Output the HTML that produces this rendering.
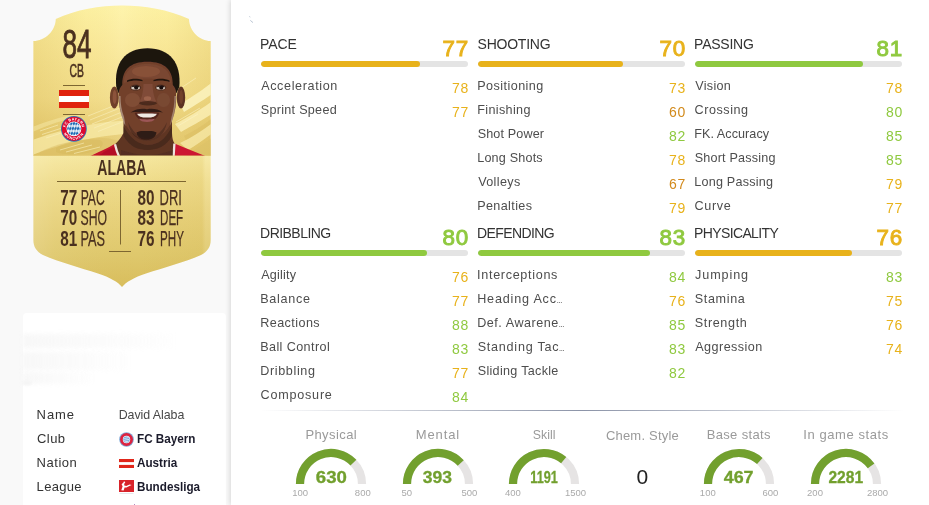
<!DOCTYPE html>
<html lang="en"><head><meta charset="utf-8"><title>David Alaba</title>
<style>
html,body{margin:0;padding:0}
body{width:929px;height:505px;overflow:hidden;background:#f9f9f9;font-family:"Liberation Sans",sans-serif;position:relative}
#left{position:absolute;left:0;top:0;width:232px;height:505px;overflow:hidden}
#panel{position:absolute;left:231px;top:0;width:698px;height:505px;background:#fff;box-shadow:-1px 0 5px rgba(0,0,0,.14)}
#panel>*{position:absolute}
.blk{position:absolute;width:207px;height:200px;margin-left:-231px}
.blk>*{position:absolute}
.hd{left:0;top:35px;font-size:14px;line-height:18px;color:#333;white-space:nowrap}
.hv{right:-.7px;top:33.6px;font-size:22.4px;line-height:30px;white-space:nowrap;-webkit-text-stroke:.95px currentColor;letter-spacing:.6px}
.bar{left:0;top:61px;width:207px;height:6px;border-radius:3px;background:#e4e4e4;overflow:hidden}
.bar i{display:block;height:6px;border-radius:3px}
.row{left:0;width:207px;height:24px}
.lb{position:absolute;left:0;top:4px;font-size:12.6px;line-height:16px;color:#4d4d4d;white-space:nowrap}
.nv{position:absolute;right:-.9px;top:6px;font-size:14px;letter-spacing:.6px;line-height:16px;white-space:nowrap}
.el{font-size:5.600px;font-weight:bold;letter-spacing:0;margin-left:-.2px;color:#333}
.hr{left:29px;top:410px;width:645px;height:1px;margin-left:0;background:linear-gradient(to right,rgba(140,148,168,0),rgba(140,148,168,1) 50%,rgba(140,148,168,0))}
.gl{top:427px;width:120px;text-align:center;font-size:13px;line-height:16px;color:#9a9a9a;margin-left:-231px;white-space:nowrap}
.gl span,.gv span{display:inline-block}
.gs{margin-left:-231px}
.gv{top:468.300px;width:80px;text-align:center;font-size:16px;line-height:20px;font-weight:bold;color:#72a02e;margin-left:-231px;white-space:nowrap;-webkit-text-stroke:.3px #72a02e}
.gm{top:486.600px;width:40px;text-align:center;font-size:9.500px;line-height:12px;color:#aaa;margin-left:-231px}
.cz{top:465.300px;width:80px;text-align:center;font-size:21px;line-height:24px;color:#222;margin-left:-231px}
.wb{position:absolute;left:22.5px;width:203px;background:#fff;border-radius:4px}
.ir{position:absolute;left:37.5px;width:190px;height:24px;font-size:13px;line-height:16px;color:#333;white-space:nowrap}
.ir>*{position:absolute}
.ir .k{left:0;top:0}
.ir .v{left:81.200px;top:0;color:#484848;font-size:12.400px;letter-spacing:-.05px}
.ir .b{left:99.500px;top:0;font-weight:bold;color:#1b1b2b;font-size:13px;transform:scaleX(.9);transform-origin:0 0}
.ir .ic{display:block}
.sm{position:absolute;background:linear-gradient(to right,#f6f6f6,rgba(250,250,250,.2));filter:blur(2px);opacity:.8}
.sm2{position:absolute;left:22.500px;top:381px;width:8px;height:4px;background:#f4f4f4;filter:blur(1px)}

</style></head><body>
<div id="left">
<svg id="card" style="position:absolute;left:0;top:0" width="232" height="300" viewBox="0 0 232 300" font-family="'Liberation Sans',sans-serif">
<defs>
<linearGradient id="cg" gradientUnits="userSpaceOnUse" x1="0" y1="5" x2="0" y2="155">
<stop offset="0" stop-color="#fef3a5"/><stop offset=".28" stop-color="#fae999"/><stop offset=".62" stop-color="#f3de8b"/><stop offset=".8" stop-color="#ead17a"/><stop offset="1" stop-color="#e4c96e"/>
</linearGradient>
<linearGradient id="cgb" gradientUnits="userSpaceOnUse" x1="0" y1="155" x2="0" y2="288">
<stop offset="0" stop-color="#f6e8a0"/><stop offset=".2" stop-color="#efdc8b"/><stop offset=".45" stop-color="#e8d27c"/><stop offset=".75" stop-color="#dfc86c"/><stop offset="1" stop-color="#d8bd5c"/>
</linearGradient>
<linearGradient id="cg2" gradientUnits="userSpaceOnUse" x1="33" y1="0" x2="211" y2="0">
<stop offset="0" stop-color="#c9a63f" stop-opacity=".22"/><stop offset=".3" stop-color="#c9a63f" stop-opacity=".04"/><stop offset=".5" stop-color="#fff" stop-opacity=".08"/><stop offset=".75" stop-color="#c9a63f" stop-opacity=".03"/><stop offset="1" stop-color="#c9a63f" stop-opacity=".2"/>
</linearGradient>
<linearGradient id="cg3" gradientUnits="userSpaceOnUse" x1="33" y1="0" x2="211" y2="0">
<stop offset="0" stop-color="#fff" stop-opacity=".14"/><stop offset=".12" stop-color="#fff" stop-opacity=".05"/><stop offset=".6" stop-color="#c9a63f" stop-opacity="0"/><stop offset=".95" stop-color="#c9a63f" stop-opacity=".1"/><stop offset=".97" stop-color="#fff" stop-opacity=".08"/><stop offset="1" stop-color="#fff" stop-opacity=".08"/>
</linearGradient>
<clipPath id="cc"><path d="M33.4 41C45 41 55.5 31 55.8 19C76 9.500 100 5.400 122 5.400C144 5.400 168.500 9.500 189 19C189.300 31 199.500 41 210.700 41L210.700 240C210.700 247 207.500 251.500 201 255C184 262.500 164 267.500 146 273.500C134 277.500 126 282 122 287C118 282 110 277.500 98 273.500C80 267.500 60 262.500 43 255C36.500 251.500 33.400 247 33.400 240Z"/></clipPath>
<clipPath id="pc"><rect x="30" y="0" width="185" height="155.600"/></clipPath>
<clipPath id="dc"><circle cx="73.900" cy="128.800" r="6.700"/></clipPath>
<pattern id="loz" patternUnits="userSpaceOnUse" x="66.400" y="121" width="2.600" height="5" patternTransform="skewX(-12)"><rect width="2.600" height="5" fill="#f4f7fb"/><path d="M0 0L1.300 2.500L0 5L-1.300 2.500ZM2.600 0L3.900 2.500L2.600 5L1.300 2.500Z" fill="#1767b3"/></pattern>
<filter id="bl" x="-5%" y="-5%" width="110%" height="110%"><feGaussianBlur stdDeviation=".55"/></filter>
</defs>
<g clip-path="url(#cc)">
<rect x="30" y="0" width="185" height="156" fill="url(#cg)"/>
<rect x="30" y="155.600" width="185" height="135" fill="url(#cgb)"/>
<rect x="30" y="0" width="185" height="156" fill="url(#cg2)"/>
<rect x="30" y="156" width="185" height="134" fill="url(#cg3)"/>
<g id="photo" clip-path="url(#pc)">
<g id="bgpat">
<path d="M30 141C50 133 75 127 100 123C110 121.500 118 121 125 121L125 134C110 135 90 138 70 143C55 147 42 151 30 156Z" fill="#f8ebaa" opacity=".75"/>
<path d="M30 128C45 122 60 117 80 113L80 116C62 120 46 126 30 133Z" fill="#f9edb0" opacity=".45"/>
<path d="M40 152C55 144 75 140 100 138C110 138 118 140 122 143L122 156L40 156Z" fill="#dcc067" opacity=".55"/>
<path d="M56 148C66 141 84 138 100 140C106 143 102 149 92 152C80 155 62 155 56 152Z" fill="#d3b658" opacity=".35"/>
<g stroke="#faf0bd" stroke-width="1" opacity=".6" fill="none">
<path d="M40 131L58 125M42 134.500L62 128M46 138L66 131.500"/>
<path d="M88 116L118 104M90 120L120 108M92 124L122 112M94 128L122 117M98 131.500L122 122"/>
<path d="M60 150L84 143M66 152L92 145M74 153.500L100 147"/>
</g>
<path d="M180 104C190 98 200 92 215 80L215 92C204 100 194 106 184 112Z" fill="#fcf3c0" opacity=".85"/>
<path d="M175 124C188 117 200 110 215 99L215 112C203 120 192 126 181 132Z" fill="#fbf0b8" opacity=".8"/>
<path d="M180 143C192 137 203 130 215 121L215 131C205 139 196 145 188 150Z" fill="#f9ecae" opacity=".7"/>
<path d="M184 136C194 131 204 125 215 116L215 121C204 129 195 135 186 140Z" fill="#d9bd62" opacity=".45"/>
<path d="M186 156C194 150 204 144 215 136L215 156Z" fill="#dcc168" opacity=".5"/>
<g stroke="#fcf4c8" stroke-width=".9" opacity=".6" fill="none">
<path d="M181 88L196 78M176 122L200 108M178 126L198 114"/>
</g>
</g>
<g id="player" filter="url(#bl)">
<path d="M86 158L91.500 155.400C100 151.500 108 148 114.500 144L120 158Z" fill="#c5132c"/>
<path d="M96 158L104 152L114 146.500L118 158Z" fill="#a30d22" opacity=".5"/>
<path d="M173 158L174.500 143.500C184 147.500 194 151.500 204 155.500L209 158Z" fill="#cc1730"/>
<path d="M123.500 116L123.500 133C121 138 118 141.500 115 144.300L119.500 158L173.500 158L174.500 143.600C173 141 172.200 138 172 133L172 116Z" fill="#5e3524"/>
<path d="M115 144.300C116.200 150 117.800 154 119.700 158M174.400 143.600C174 150 173.800 154 173.400 158" stroke="#efe4df" stroke-width="2.300" fill="none"/>
<path d="M123.500 126C130 139 140 145 148 145C158 145 166 139 172 126L172 136C166 147 156 150 148 150C138 150 130 147 123.500 136Z" fill="#3b2015" opacity=".55"/>
<path d="M121 150C130 153 140 155 148 155C156 155 165 153 173 150L173 158L121 158Z" fill="#4a2a1b" opacity=".5"/>
<ellipse cx="114.300" cy="97.500" rx="4.400" ry="11" fill="#6f3f2a"/>
<ellipse cx="181" cy="97.500" rx="4.200" ry="11" fill="#5c3222"/>
<ellipse cx="114.600" cy="97" rx="2" ry="7" fill="#93593f" opacity=".8"/>
<ellipse cx="181.200" cy="97" rx="1.800" ry="7" fill="#7a4631" opacity=".7"/>
<path d="M116.300 87C113.800 63 125 48.200 147.500 48.200C170 48.200 181.500 63 179.300 87L176.500 93L118.500 93Z" fill="#1c1411"/>
<path d="M122.300 85C122 70 130 61.800 147.500 61.800C165 61.800 173 70 172.800 85C174.500 87 176 89.500 176.200 92C176.700 102 175.500 112 172 121C168 131 158 140.200 148 140.200C138 140.200 128 131 123.700 121C119.700 112 118.300 102 118.800 92C119 89.500 120.500 87 122.300 85Z" fill="#72412c"/>
<path d="M124 83C124 72 131 64 147.500 64C164 64 171 72 171 83C164 80 158 78.500 147.500 78.500C137 78.500 131 80 124 83Z" fill="#7d4832" opacity=".75"/>
<ellipse cx="146" cy="71.500" rx="14" ry="5.500" fill="#8e563c" opacity=".7"/>
<ellipse cx="132.500" cy="100" rx="7.500" ry="7" fill="#8a553d" opacity=".6"/>
<ellipse cx="163.500" cy="100" rx="6.500" ry="7" fill="#80503a" opacity=".5"/>
<path d="M143.500 84C143.500 92 141.500 98 140 101C143 104.500 152 104.500 156 101C154.500 98 152.500 92 152.500 84Z" fill="#864f3c" opacity=".75"/>
<ellipse cx="148" cy="103.200" rx="9" ry="2.200" fill="#3b1f14" opacity=".7"/>
<ellipse cx="147.500" cy="98.500" rx="3.600" ry="2.200" fill="#a56a52" opacity=".75"/>
<path d="M127 80.500C131 78.200 138 78 142.500 80L142.500 81.300C138 80 131.500 80.300 127 82Z" fill="#23150f"/>
<path d="M153.500 80C158 78 165 78.200 169.500 80.500L169.500 82C165 80.300 158 80 153.500 81.300Z" fill="#23150f"/>
<ellipse cx="135.600" cy="87.600" rx="5.600" ry="3" fill="#4a281b" opacity=".8"/>
<ellipse cx="160.700" cy="87.600" rx="5.600" ry="3" fill="#4a281b" opacity=".8"/>
<ellipse cx="135.600" cy="87.700" rx="4.500" ry="1.900" fill="#d6cbc1"/>
<ellipse cx="160.700" cy="87.700" rx="4.500" ry="1.900" fill="#d6cbc1"/>
<circle cx="136.200" cy="87.500" r="2.100" fill="#170d09"/>
<circle cx="161.300" cy="87.500" r="2.100" fill="#170d09"/>
<path d="M130.600 87.600C132.500 85 138.500 84.800 140.700 87.600C138.500 86.300 132.500 86.300 130.600 87.600Z" fill="#1d110c"/>
<path d="M155.700 87.600C157.600 85 163.600 84.800 165.800 87.600C163.600 86.300 157.600 86.300 155.700 87.600Z" fill="#1d110c"/>
<path d="M130.500 112.500C136 108.800 142 108.300 147 109.300C152 108.300 158 108.800 163 112.500C158 111.800 152 112.200 147 112.200C142 112.200 136 111.800 130.500 112.500Z" fill="#2c1911" opacity=".9"/>
<path d="M134.500 112.800C140 112.200 154 112.200 159.500 112.800C157.500 118.500 153 121.500 147 121.500C141 121.500 136.500 118.500 134.500 112.800Z" fill="#54261c"/>
<path d="M137.200 113.700C142 113.300 152 113.300 156.800 113.700C155.800 116.200 153 117.600 147 117.600C141 117.600 138.200 116.200 137.200 113.700Z" fill="#efe9e2"/>
<path d="M139 118.800C143 119.600 151 119.600 155 118.800C153.800 121.300 151 122 147 122C143 122 140.200 121.300 139 118.800Z" fill="#9d5656"/>
<path d="M136.500 132.500C140 130.500 143 131 146.500 131C150 131 153 130.500 156.500 132.500C155.500 137.500 152 139.800 146.500 139.800C141 139.800 137.500 137.500 136.500 132.500Z" fill="#1d120e" opacity=".8"/>
<path d="M128 122C134 134 140 138 147 138C154 138 161 134 167 122C165 134 158 140.500 147 140.500C136 140.500 130 134 128 122Z" fill="#3a2016" opacity=".45"/>
<path d="M119 96C119.500 110 121.500 119 125.500 126L124 117C121.500 110 120.500 104 120.500 96Z" fill="#cdbdaa" opacity=".6"/>
<path d="M176 96C175.500 110 173.500 119 170 126L171.500 117C173.500 110 174.500 104 174.500 96Z" fill="#cdbdaa" opacity=".5"/>
</g>
</g>

</g>
<g fill="#4a301f">
<text x="62.500" y="58.200" font-size="39.800" textLength="29" lengthAdjust="spacingAndGlyphs" stroke="#4a301f" stroke-width=".9">84</text>
<text x="69.400" y="76.800" font-size="18.100" textLength="14.400" lengthAdjust="spacingAndGlyphs" stroke="#4a301f" stroke-width=".55">CB</text>
<text x="97.300" y="174.500" font-size="22.800" font-weight="bold" textLength="49.200" lengthAdjust="spacingAndGlyphs">ALABA</text>
<g font-size="22" font-weight="bold" transform="translate(0 .7)">
<text x="60.2" y="204.1" textLength="17" lengthAdjust="spacingAndGlyphs">77</text>
<text x="60.2" y="224.6" textLength="17" lengthAdjust="spacingAndGlyphs">70</text>
<text x="60.2" y="245.1" textLength="17" lengthAdjust="spacingAndGlyphs">81</text>
<text x="137.6" y="204.1" textLength="17" lengthAdjust="spacingAndGlyphs">80</text>
<text x="137.6" y="224.6" textLength="17" lengthAdjust="spacingAndGlyphs">83</text>
<text x="137.6" y="245.1" textLength="17" lengthAdjust="spacingAndGlyphs">76</text>
</g>
<g font-size="22" stroke="#4a301f" stroke-width=".25" transform="translate(0 .7)">
<text x="80.7" y="204.1" textLength="24" lengthAdjust="spacingAndGlyphs">PAC</text>
<text x="80.5" y="224.6" textLength="26.5" lengthAdjust="spacingAndGlyphs">SHO</text>
<text x="80.5" y="245.1" textLength="24.6" lengthAdjust="spacingAndGlyphs">PAS</text>
<text x="159.5" y="204.1" textLength="22.4" lengthAdjust="spacingAndGlyphs">DRI</text>
<text x="160" y="224.6" textLength="23.2" lengthAdjust="spacingAndGlyphs">DEF</text>
<text x="160" y="245.1" textLength="24" lengthAdjust="spacingAndGlyphs">PHY</text>
</g>
</g>
<g fill="#7d6631">
<rect x="63" y="85" width="22" height="1"/>
<rect x="63" y="114" width="22" height="1"/>
<rect x="57" y="181" width="129" height="1"/>
<rect x="120" y="190" width="1" height="54.5"/>
<rect x="109" y="251" width="22" height="1"/>
</g>
<g id="crest">
<circle cx="73.900" cy="128.800" r="12.900" fill="#2a76bd"/>
<circle cx="73.900" cy="128.800" r="12.100" fill="#dd0a30"/>
<circle cx="73.900" cy="128.800" r="7.400" fill="#fff"/>
<g clip-path="url(#dc)"><rect x="66" y="121" width="16" height="16" fill="url(#loz)"/></g>
<path id="ct" d="M65.500 128.800A8.400 8.400 0 0 1 82.300 128.800" fill="none"/>
<path id="cb" d="M62.900 128.800A11 11 0 0 0 84.900 128.800" fill="none"/>
<text font-size="3.700" font-weight="bold" fill="#fff" letter-spacing=".25"><textPath href="#ct" startOffset="50%" text-anchor="middle">FC BAYERN</textPath></text>
<text font-size="3.700" font-weight="bold" fill="#fff" letter-spacing=".8"><textPath href="#cb" startOffset="50%" text-anchor="middle">MÜNCHEN</textPath></text>
</g>
<g id="flag"><rect x="59" y="90" width="30" height="18" fill="#fff"/><rect x="59" y="90" width="30" height="6" fill="#e0220d"/><rect x="59" y="102" width="30" height="6" fill="#e0220d"/></g>
</svg>

<div class="wb" style="top:313px;height:200px"></div>
<div class="sm" style="left:22.500px;top:334px;width:150px;height:14px"></div>
<div class="sm" style="left:22.500px;top:352px;width:105px;height:18px"></div>
<div class="sm" style="left:22.500px;top:372px;width:70px;height:12px"></div>
<div class="sm2"></div>
<div class="ir" style="top:407px"><span class="k" style="letter-spacing:0.92px;left:-0.9px">Name</span><span class="v">David Alaba</span></div>
<div class="ir" style="top:431px"><span class="k" style="letter-spacing:0.43px;left:-0.5px">Club</span><svg class="ic" style="left:81.500px;top:0.900px" width="15" height="15" viewBox="0 0 15 15"><circle cx="7.500" cy="7.500" r="7.300" fill="#7fa9d8"/><circle cx="7.500" cy="7.500" r="6.500" fill="#dc2340"/><circle cx="7.500" cy="7.500" r="3.700" fill="#f2f6fb"/><circle cx="7.500" cy="7.500" r="3.100" fill="#6fa3d8"/><path d="M5.200 6.500L9.800 5.600M5 8.300L10 7.400M5.500 9.900L9.600 9.200" stroke="#fff" stroke-width=".7"/></svg><span class="b">FC Bayern</span></div>
<div class="ir" style="top:455px"><span class="k" style="letter-spacing:0.53px;left:-0.9px">Nation</span><svg class="ic" style="left:81.500px;top:4px" width="15" height="9" viewBox="0 0 15 9"><rect width="15" height="9" fill="#fff"/><rect width="15" height="3.100" fill="#e0261a"/><rect y="5.900" width="15" height="3.100" fill="#e0261a"/></svg><span class="b">Austria</span></div>
<div class="ir" style="top:479px"><span class="k" style="letter-spacing:0.31px;left:-0.9px">League</span><svg class="ic" style="left:81.500px;top:1px" width="15" height="15" viewBox="0 0 15 15"><rect width="15" height="12" fill="#d8232a"/><path d="M2.300 10.300L3.600 6.200L2.600 4.600L4.200 2.600L5.600 3.600L5 5.200L7.200 5.900L10.600 4.400L12.600 4.900L10.400 6.100L7.400 7.600L5.600 7.500L4.600 10.500Z" fill="#fff"/><circle cx="5.300" cy="2.300" r=".9" fill="#fff"/><rect x=".5" y="13" width="14" height="1" fill="#e6e6ea"/></svg><span class="b">Bundesliga</span></div>

<div style="position:absolute;left:134px;top:503.500px;width:1.200px;height:2px;background:#b48fc0"></div>
</div>
<div id="panel">
<div class="blk" style="left:261px;top:0px">
<div class="hd" style="letter-spacing:-0.15px;left:-0.9px">PACE</div><div class="hv" style="color:#e8b21b">77</div>
<div class="bar"><i style="width:77%;background:#e8b21b"></i></div>
<div class="row" style="top:74px"><span class="lb" style="letter-spacing:0.62px;left:0.2px">Acceleration</span><span class="nv" style="color:#e8b21b">78</span></div>
<div class="row" style="top:98px"><span class="lb" style="letter-spacing:0.29px;left:-0.3px">Sprint Speed</span><span class="nv" style="color:#e8b21b">77</span></div>
</div>
<div class="blk" style="left:478px;top:0px">
<div class="hd" style="letter-spacing:-0.25px;left:-0.4px">SHOOTING</div><div class="hv" style="color:#e8b21b">70</div>
<div class="bar"><i style="width:70%;background:#e8b21b"></i></div>
<div class="row" style="top:74px"><span class="lb" style="letter-spacing:0.45px;left:-0.8px">Positioning</span><span class="nv" style="color:#e8b21b">73</span></div>
<div class="row" style="top:98px"><span class="lb" style="letter-spacing:0.36px;left:-0.8px">Finishing</span><span class="nv" style="color:#d28a1c">60</span></div>
<div class="row" style="top:122px"><span class="lb" style="letter-spacing:0.13px;left:-0.3px">Shot Power</span><span class="nv" style="color:#8fc93f">82</span></div>
<div class="row" style="top:146px"><span class="lb" style="letter-spacing:0.19px;left:-0.8px">Long Shots</span><span class="nv" style="color:#e8b21b">78</span></div>
<div class="row" style="top:170px"><span class="lb" style="letter-spacing:0.36px;left:0.2px">Volleys</span><span class="nv" style="color:#d28a1c">67</span></div>
<div class="row" style="top:194px"><span class="lb" style="letter-spacing:0.37px;left:-0.8px">Penalties</span><span class="nv" style="color:#e8b21b">79</span></div>
</div>
<div class="blk" style="left:695px;top:0px">
<div class="hd" style="letter-spacing:-0.24px;left:-0.9px">PASSING</div><div class="hv" style="color:#8fc93f">81</div>
<div class="bar"><i style="width:81%;background:#8fc93f"></i></div>
<div class="row" style="top:74px"><span class="lb" style="letter-spacing:0.32px;left:0.2px">Vision</span><span class="nv" style="color:#e8b21b">78</span></div>
<div class="row" style="top:98px"><span class="lb" style="letter-spacing:0.54px;left:-0.4px">Crossing</span><span class="nv" style="color:#8fc93f">80</span></div>
<div class="row" style="top:122px"><span class="lb" style="letter-spacing:0.06px;left:-0.8px">FK. Accuracy</span><span class="nv" style="color:#8fc93f">85</span></div>
<div class="row" style="top:146px"><span class="lb" style="letter-spacing:0.20px;left:-0.3px">Short Passing</span><span class="nv" style="color:#8fc93f">85</span></div>
<div class="row" style="top:170px"><span class="lb" style="letter-spacing:0.23px;left:-0.8px">Long Passing</span><span class="nv" style="color:#e8b21b">79</span></div>
<div class="row" style="top:194px"><span class="lb" style="letter-spacing:0.65px;left:-0.4px">Curve</span><span class="nv" style="color:#e8b21b">77</span></div>
</div>
<div class="blk" style="left:261px;top:189px">
<div class="hd" style="letter-spacing:-0.55px;left:-0.9px">DRIBBLING</div><div class="hv" style="color:#8fc93f">80</div>
<div class="bar"><i style="width:80%;background:#8fc93f"></i></div>
<div class="row" style="top:74px"><span class="lb" style="letter-spacing:0.20px;left:0.2px">Agility</span><span class="nv" style="color:#e8b21b">76</span></div>
<div class="row" style="top:98px"><span class="lb" style="letter-spacing:0.71px;left:-0.8px">Balance</span><span class="nv" style="color:#e8b21b">77</span></div>
<div class="row" style="top:122px"><span class="lb" style="letter-spacing:0.43px;left:-0.8px">Reactions</span><span class="nv" style="color:#8fc93f">88</span></div>
<div class="row" style="top:146px"><span class="lb" style="letter-spacing:0.40px;left:-0.8px">Ball Control</span><span class="nv" style="color:#8fc93f">83</span></div>
<div class="row" style="top:170px"><span class="lb" style="letter-spacing:0.64px;left:-0.8px">Dribbling</span><span class="nv" style="color:#e8b21b">77</span></div>
<div class="row" style="top:194px"><span class="lb" style="letter-spacing:0.77px;left:-0.4px">Composure</span><span class="nv" style="color:#8fc93f">84</span></div>
</div>
<div class="blk" style="left:478px;top:189px">
<div class="hd" style="letter-spacing:-0.62px;left:-0.9px">DEFENDING</div><div class="hv" style="color:#8fc93f">83</div>
<div class="bar"><i style="width:83%;background:#8fc93f"></i></div>
<div class="row" style="top:74px"><span class="lb" style="letter-spacing:0.68px;left:-0.9px">Interceptions</span><span class="nv" style="color:#8fc93f">84</span></div>
<div class="row" style="top:98px"><span class="lb" style="letter-spacing:0.81px;left:-0.8px">Heading Acc<span class="el">…</span></span><span class="nv" style="color:#e8b21b">76</span></div>
<div class="row" style="top:122px"><span class="lb" style="letter-spacing:0.52px;left:-0.8px">Def. Awarene<span class="el">…</span></span><span class="nv" style="color:#8fc93f">85</span></div>
<div class="row" style="top:146px"><span class="lb" style="letter-spacing:0.75px;left:-0.3px">Standing Tac<span class="el">…</span></span><span class="nv" style="color:#8fc93f">83</span></div>
<div class="row" style="top:170px"><span class="lb" style="letter-spacing:0.30px;left:-0.3px">Sliding Tackle</span><span class="nv" style="color:#8fc93f">82</span></div>
</div>
<div class="blk" style="left:695px;top:189px">
<div class="hd" style="letter-spacing:-0.64px;left:-0.9px">PHYSICALITY</div><div class="hv" style="color:#e8b21b">76</div>
<div class="bar"><i style="width:76%;background:#e8b21b"></i></div>
<div class="row" style="top:74px"><span class="lb" style="letter-spacing:0.90px;left:0.1px">Jumping</span><span class="nv" style="color:#8fc93f">83</span></div>
<div class="row" style="top:98px"><span class="lb" style="letter-spacing:0.66px;left:-0.3px">Stamina</span><span class="nv" style="color:#e8b21b">75</span></div>
<div class="row" style="top:122px"><span class="lb" style="letter-spacing:0.64px;left:-0.3px">Strength</span><span class="nv" style="color:#e8b21b">76</span></div>
<div class="row" style="top:146px"><span class="lb" style="letter-spacing:0.46px;left:0.2px">Aggression</span><span class="nv" style="color:#e8b21b">74</span></div>
</div>
<div class="hr"></div>
<svg class="mk" style="left:17px;top:14px" width="8" height="10" viewBox="0 0 8 10"><path d="M1.300 2.500L2.300 3.100M2.300 6.400L5 8.600" stroke="#a9b8c9" stroke-width=".8" fill="none"/></svg>
<div class="gl" style="left:271.2px;top:427px"><span style="letter-spacing:0.41px;margin-left:0.11px">Physical</span></div><svg class="gs" style="left:291.2px;top:444px" width="80" height="40" viewBox="291.2 444 80 40"><path d="M300.2 484A31 31 0 0 1 362.2 484" fill="none" stroke="#e6e4e4" stroke-width="8.200"/><path d="M300.2 484A31 31 0 0 1 353.61 462.58" fill="none" stroke="#72a02e" stroke-width="8.200"/></svg><div class="gv" style="left:291.2px"><span style="transform:translateX(0.06px) scaleX(1.164)">630</span></div><div class="gm" style="left:280.2px">100</div><div class="gm" style="left:342.8px">800</div>
<div class="gl" style="left:377.8px;top:427px"><span style="letter-spacing:0.88px;margin-left:0.34px">Mental</span></div><svg class="gs" style="left:397.8px;top:444px" width="80" height="40" viewBox="397.8 444 80 40"><path d="M406.8 484A31 31 0 0 1 468.8 484" fill="none" stroke="#e6e4e4" stroke-width="8.200"/><path d="M406.8 484A31 31 0 0 1 460.55 462.94" fill="none" stroke="#72a02e" stroke-width="8.200"/></svg><div class="gv" style="left:397.8px"><span style="transform:translateX(0.11px) scaleX(1.093)">393</span></div><div class="gm" style="left:386.8px">50</div><div class="gm" style="left:449.4px">500</div>
<div class="gl" style="left:483.9px;top:427px"><span style="transform:translateX(0.14px) scaleX(0.949)">Skill</span></div><svg class="gs" style="left:503.9px;top:444px" width="80" height="40" viewBox="503.9 444 80 40"><path d="M512.9 484A31 31 0 0 1 574.9 484" fill="none" stroke="#e6e4e4" stroke-width="8.200"/><path d="M512.9 484A31 31 0 0 1 563.59 460.06" fill="none" stroke="#72a02e" stroke-width="8.200"/></svg><div class="gv" style="left:503.9px"><span style="transform:translateX(-0.24px) scaleX(0.792)">1191</span></div><div class="gm" style="left:492.9px">400</div><div class="gm" style="left:555.5px">1500</div>
<div class="gl" style="left:582.4px;top:428px"><span style="letter-spacing:0.20px;margin-left:0.05px">Chem. Style</span></div><div class="cz" style="left:602.300px">0</div>
<div class="gl" style="left:678.8px;top:427px"><span style="letter-spacing:0.35px;margin-left:-0.12px">Base stats</span></div><svg class="gs" style="left:698.8px;top:444px" width="80" height="40" viewBox="698.8 444 80 40"><path d="M707.8 484A31 31 0 0 1 769.8 484" fill="none" stroke="#e6e4e4" stroke-width="8.200"/><path d="M707.8 484A31 31 0 0 1 759.59 461.01" fill="none" stroke="#72a02e" stroke-width="8.200"/></svg><div class="gv" style="left:698.8px"><span style="transform:translateX(0.28px) scaleX(1.116)">467</span></div><div class="gm" style="left:687.8px">100</div><div class="gm" style="left:750.4px">600</div>
<div class="gl" style="left:786.0px;top:427px"><span style="letter-spacing:0.57px;margin-left:-0.06px">In game stats</span></div><svg class="gs" style="left:806.0px;top:444px" width="80" height="40" viewBox="806.0 444 80 40"><path d="M815.0 484A31 31 0 0 1 877.0 484" fill="none" stroke="#e6e4e4" stroke-width="8.200"/><path d="M815.0 484A31 31 0 0 1 871.10 465.81" fill="none" stroke="#72a02e" stroke-width="8.200"/></svg><div class="gv" style="left:806.0px"><span style="transform:translateX(-0.05px) scaleX(0.974)">2281</span></div><div class="gm" style="left:795.0px">200</div><div class="gm" style="left:857.6px">2800</div>
</div>
</body></html>
